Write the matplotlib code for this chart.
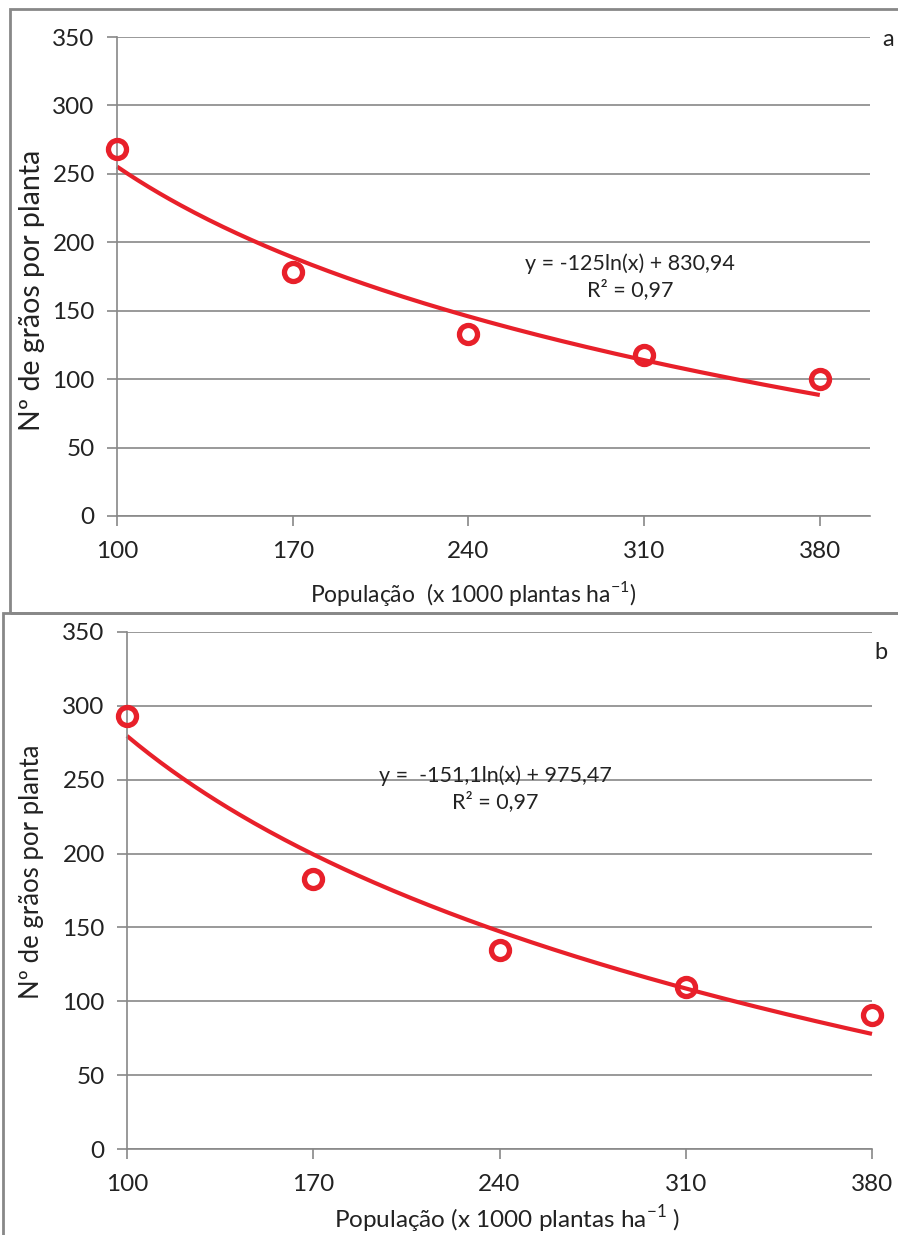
import numpy as np
import matplotlib
matplotlib.use("Agg")
import matplotlib.pyplot as plt
from matplotlib.patches import Rectangle

plt.rcParams['font.family'] = ['Lato', 'DejaVu Sans']

# dados observados
populacao = [100, 170, 240, 310, 380]
graos_a = [268, 178, 133, 118, 100]
graos_b = [293, 183, 135, 110, 91]

# ajuste logaritmico y = a*ln(x) + b
coef_a = (-125.0, 830.94)
coef_b = (-151.1, 975.47)

xticks = [100, 170, 240, 310, 380]
yticks = [0, 50, 100, 150, 200, 250, 300, 350]

vermelho = '#E8202A'
cinza = '#888888'
texto = '#222222'

fig = plt.figure(figsize=(8.98, 12.35), dpi=100)
W, H = 898.0, 1235.0

# molduras dos dois graficos
fig.patches.append(Rectangle((10 / W, 1 - 613 / H), 1.0, (613 - 9) / H,
                             transform=fig.transFigure, fill=False,
                             edgecolor=cinza, linewidth=2))
fig.patches.append(Rectangle((3 / W, -0.01), 1.0, (1235 - 613) / H + 0.01,
                             transform=fig.transFigure, fill=False,
                             edgecolor=cinza, linewidth=2))


def painel(rect, y, coef, xmax, letra, eq, r2, eq_pos, xlab, xlab_pos, xlab_fs,
           ylab_y, ylab_fs):
    ax = fig.add_axes(rect)
    ax.set_xlim(100, xmax)
    ax.set_ylim(0, 350)
    ax.set_xticks(xticks)
    ax.set_yticks(yticks)
    ax.yaxis.grid(True, color=cinza, linewidth=1.2)
    ax.set_axisbelow(True)
    for s in ['top', 'right']:
        ax.spines[s].set_visible(False)
    for s in ['left', 'bottom']:
        ax.spines[s].set_color(cinza)
        ax.spines[s].set_linewidth(1.2)
    ax.tick_params(axis='both', direction='out', length=7, width=1.2,
                   color=cinza, labelsize=17.5, labelcolor=texto)
    ax.tick_params(axis='x', pad=11)
    ax.tick_params(axis='y', pad=9)

    xs = np.linspace(100, 380, 200)
    ax.plot(xs, coef[0] * np.log(xs) + coef[1], color=vermelho, lw=3,
            solid_capstyle='butt', clip_on=False)
    ax.plot(populacao, y, 'o', ms=13, mfc='none', mec=vermelho, mew=3.8,
            clip_on=False, zorder=5)

    fig.text(eq_pos[0], eq_pos[1], eq + '\n' + r2, ha='center', va='center',
             fontsize=15.5, color=texto, linespacing=1.3)
    fig.text(letra[1], letra[2], letra[0], ha='center', va='center',
             fontsize=17, color=texto)
    fig.text(xlab_pos[0], xlab_pos[1], xlab, ha='center', va='center',
             fontsize=xlab_fs, color=texto)
    fig.text(32 / W, 1 - ylab_y / H, 'Nº de grãos por planta', rotation=90,
             ha='center', va='center', fontsize=ylab_fs, color=texto)
    return ax


painel([117 / W, 1 - 516 / H, 753 / W, 479 / H], graos_a, coef_a, 400,
       ('a', 888 / W, 1 - 40 / H),
       'y = -125ln(x) + 830,94', 'R² = 0,97', (630 / W, 1 - 277 / H),
       r'População  (x 1000 plantas ha$^{\mathregular{-1}}$)',
       (473 / W, 1 - 593 / H), 16.5, 290, 20.5)

painel([127 / W, 1 - 1149 / H, 745 / W, 517 / H], graos_b, coef_b, 380,
       ('b', 881 / W, 1 - 652 / H),
       'y =  -151,1ln(x) + 975,47', 'R² = 0,97', (495 / W, 1 - 789 / H),
       r'População (x 1000 plantas ha$^{\mathregular{-1}}$ )',
       (507 / W, 1 - 1219 / H), 17.5, 872, 18.5)

fig.savefig('out.png', dpi=100, facecolor='white')
